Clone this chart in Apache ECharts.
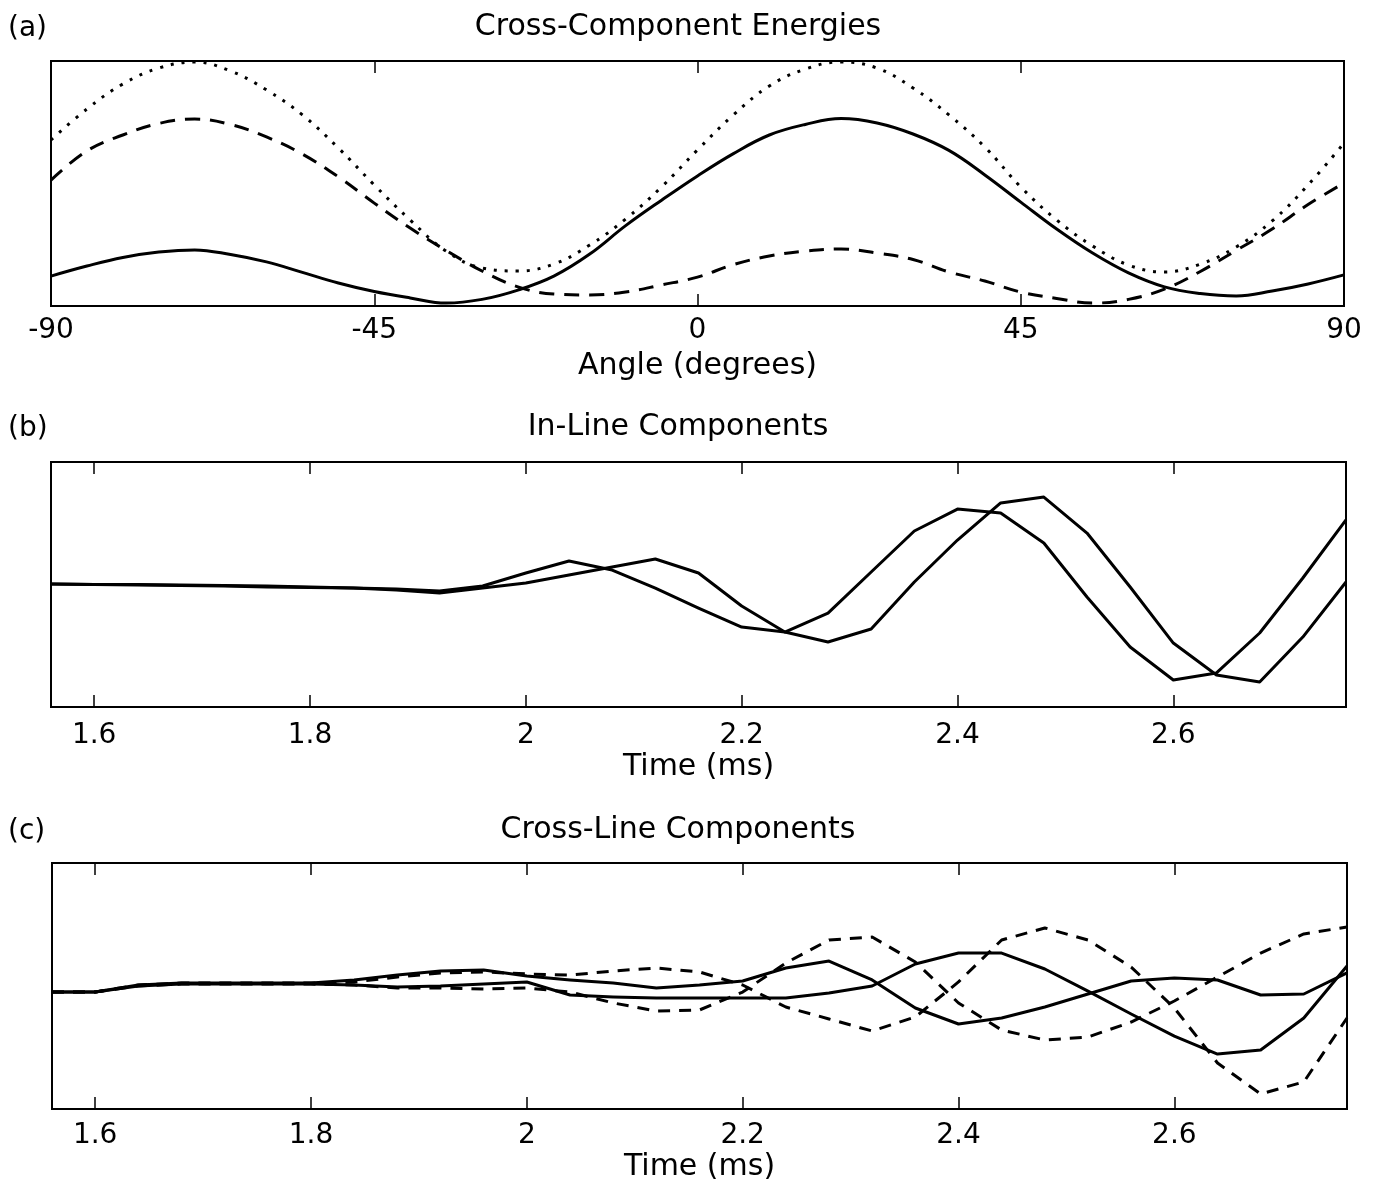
<!DOCTYPE html>
<html>
<head>
<meta charset="utf-8">
<script src="https://cdn.jsdelivr.net/npm/echarts@6/dist/echarts.min.js"></script>
<style>
  html, body { margin: 0; padding: 0; background: #fff; }
  #chart { width: 1380px; height: 1188px; }
</style>
</head>
<body>
<div id="chart"></div>
<script>
// ---------- Panel (a): Cross-Component Energies ----------
const angleDeg = [-90,-85,-80,-75,-70,-65,-60,-55,-50,-45,-40,-35,-30,-25,-20,-15,-10,-5,0,5,10,15,20,25,30,35,40,45,50,55,60,65,70,75,80,85,90];
const energySolid  = [0.122,0.163,0.198,0.220,0.229,0.210,0.180,0.137,0.094,0.059,0.033,0.012,0.027,0.065,0.122,0.212,0.328,0.432,0.531,0.622,0.698,0.741,0.765,0.747,0.702,0.635,0.535,0.424,0.314,0.216,0.135,0.078,0.051,0.041,0.061,0.090,0.127];
const energyDashed = [0.514,0.633,0.698,0.745,0.763,0.741,0.690,0.620,0.527,0.420,0.318,0.227,0.143,0.078,0.049,0.045,0.057,0.086,0.118,0.169,0.204,0.224,0.233,0.216,0.190,0.139,0.102,0.057,0.031,0.012,0.027,0.069,0.141,0.227,0.314,0.414,0.502];
const energyDotted = [0.678,0.804,0.906,0.971,0.996,0.959,0.882,0.780,0.645,0.494,0.351,0.224,0.155,0.143,0.171,0.249,0.355,0.486,0.637,0.780,0.898,0.967,0.996,0.971,0.890,0.780,0.649,0.486,0.351,0.245,0.167,0.139,0.171,0.241,0.347,0.494,0.665];
const angleTicks = [-90,-45,0,45,90];

// ---------- Panels (b) and (c): time series ----------
const timeMs = [1.56,1.60,1.64,1.68,1.72,1.76,1.80,1.84,1.88,1.92,1.96,2.00,2.04,2.08,2.12,2.16,2.20,2.24,2.28,2.32,2.36,2.40,2.44,2.48,2.52,2.56,2.60,2.64,2.68,2.72,2.76];
const timeTicks = [1.6,1.8,2,2.2,2.4,2.6];

const inlineA = [0.004,0,0,-0.004,-0.008,-0.012,-0.020,-0.029,-0.037,-0.053,-0.012,0.094,0.192,0.118,-0.029,-0.192,-0.347,-0.388,-0.233,0.102,0.437,0.616,0.584,0.339,-0.102,-0.510,-0.780,-0.722,-0.396,0.053,0.527];
const inlineB = [0.004,0,-0.004,-0.008,-0.012,-0.020,-0.024,-0.029,-0.045,-0.069,-0.029,0.012,0.078,0.143,0.208,0.094,-0.176,-0.388,-0.469,-0.363,0.020,0.363,0.666,0.714,0.420,-0.020,-0.478,-0.739,-0.796,-0.429,0.020];

const crossSolidA  = [-0.049,-0.049,0.008,0.024,0.024,0.024,0.024,0.049,0.089,0.122,0.130,0.081,0.049,0.024,-0.016,0.008,0.041,0.146,0.203,0.049,-0.179,-0.309,-0.260,-0.171,-0.065,0.041,0.065,0.049,-0.073,-0.065,0.106];
const crossSolidB  = [-0.049,-0.049,0,0.016,0.016,0.016,0.016,0.008,-0.008,0,0.016,0.033,-0.073,-0.089,-0.098,-0.098,-0.098,-0.098,-0.057,0,0.179,0.268,0.268,0.138,-0.041,-0.228,-0.407,-0.553,-0.520,-0.260,0.163];
const crossDashedA = [-0.049,-0.049,0.008,0.024,0.024,0.024,0.024,0.033,0.073,0.106,0.114,0.098,0.089,0.122,0.146,0.114,0.008,-0.171,-0.268,-0.366,-0.252,0.033,0.374,0.472,0.374,0.154,-0.179,-0.626,-0.878,-0.780,-0.260];
const crossDashedB = [-0.049,-0.049,0,0.016,0.016,0.016,0.016,0.008,-0.016,-0.016,-0.024,-0.016,-0.049,-0.138,-0.203,-0.195,-0.049,0.187,0.374,0.398,0.195,-0.138,-0.358,-0.439,-0.415,-0.293,-0.122,0.073,0.268,0.423,0.480];

const panelTitles = ['Cross-Component Energies', 'In-Line Components', 'Cross-Line Components'];
const panelLetters = ['(a)', '(b)', '(c)'];
const axisNames = ['Angle (degrees)', 'Time (ms)', 'Time (ms)'];

// ---------- styling / layout ----------
const FONT = 'DejaVu Sans';
const grids = [
  { left: 51, top: 61,  width: 1293, height: 245 },
  { left: 51, top: 462, width: 1295, height: 245 },
  { left: 52, top: 863, width: 1295, height: 246 }
];
const xRanges = [[-90, 90], [1.56, 2.76], [1.56, 2.76]];
const yRanges = [[0, 1], [-1, 1], [-1, 1]];
const tickSets = [angleTicks, timeTicks, timeTicks];
const letterTops = [15, 415, 818];
const titleTops = [12, 412, 815];
const labelMargins = [11, 15, 13];
const nameGaps = [45, 45, 43];

const xAxes = [];
const yAxes = [];
grids.forEach((g, i) => {
  const base = {
    type: 'value', gridIndex: i, min: xRanges[i][0], max: xRanges[i][1],
    splitLine: { show: false },
    axisLine: { show: true, onZero: false, lineStyle: { color: '#000', width: 2 } }
  };
  xAxes.push(Object.assign({}, base, {
    position: 'bottom',
    axisTick: { show: true, inside: true, length: 12, customValues: tickSets[i], lineStyle: { color: '#000', width: 1.5 } },
    axisLabel: { show: true, customValues: tickSets[i], color: '#000', fontSize: 28, fontFamily: FONT, margin: labelMargins[i] },
    name: axisNames[i], nameLocation: 'middle', nameGap: nameGaps[i],
    nameTextStyle: { color: '#000', fontSize: 30, fontFamily: FONT }
  }));
  xAxes.push(Object.assign({}, base, {
    position: 'top',
    axisTick: { show: true, inside: true, length: 12, customValues: tickSets[i], lineStyle: { color: '#000', width: 1.5 } },
    axisLabel: { show: false }
  }));
  yAxes.push({
    type: 'value', gridIndex: i, min: yRanges[i][0], max: yRanges[i][1], position: 'left',
    splitLine: { show: false },
    axisLine: { show: true, onZero: false, lineStyle: { color: '#000', width: 2 } },
    axisTick: { show: false }, axisLabel: { show: false }
  });
});

const titles = [];
panelTitles.forEach((t, i) => {
  titles.push({ text: panelLetters[i], left: 8, top: letterTops[i], padding: 0,
    textStyle: { color: '#000', fontSize: 28, fontWeight: 'normal', fontFamily: FONT } });
  titles.push({ text: t, left: 678, top: titleTops[i], textAlign: 'center', padding: 0,
    textStyle: { color: '#000', fontSize: 30, fontWeight: 'normal', fontFamily: FONT } });
});

function pairs(xs, ys) { return xs.map((x, k) => [x, ys[k]]); }
function line(xi, yi, xs, ys, type, width, smooth) {
  return {
    type: 'line', xAxisIndex: xi, yAxisIndex: yi, data: pairs(xs, ys),
    showSymbol: false, symbol: 'none', smooth: smooth || false,
    animation: false,
    lineStyle: { color: '#000', width: width, type: type, cap: 'butt', join: 'round' }
  };
}

const series = [
  line(0, 0, angleDeg, energySolid, 'solid', 3, 0.4),
  line(0, 0, angleDeg, energyDashed, [15, 10], 3, 0.4),
  line(0, 0, angleDeg, energyDotted, [3, 8], 3, 0.4),
  line(2, 1, timeMs, inlineA, 'solid', 3, false),
  line(2, 1, timeMs, inlineB, 'solid', 3, false),
  line(4, 2, timeMs, crossSolidA, 'solid', 3, false),
  line(4, 2, timeMs, crossSolidB, 'solid', 3, false),
  line(4, 2, timeMs, crossDashedA, [12, 9], 3, false),
  line(4, 2, timeMs, crossDashedB, [12, 9], 3, false)
];

const chart = echarts.init(document.getElementById('chart'), null, { renderer: 'canvas' });
chart.setOption({
  backgroundColor: '#fff',
  animation: false,
  title: titles,
  grid: grids.map(g => Object.assign({ show: true, borderColor: '#000', borderWidth: 2, backgroundColor: 'transparent' }, g)),
  xAxis: xAxes,
  yAxis: yAxes,
  series: series
});
</script>
</body>
</html>
